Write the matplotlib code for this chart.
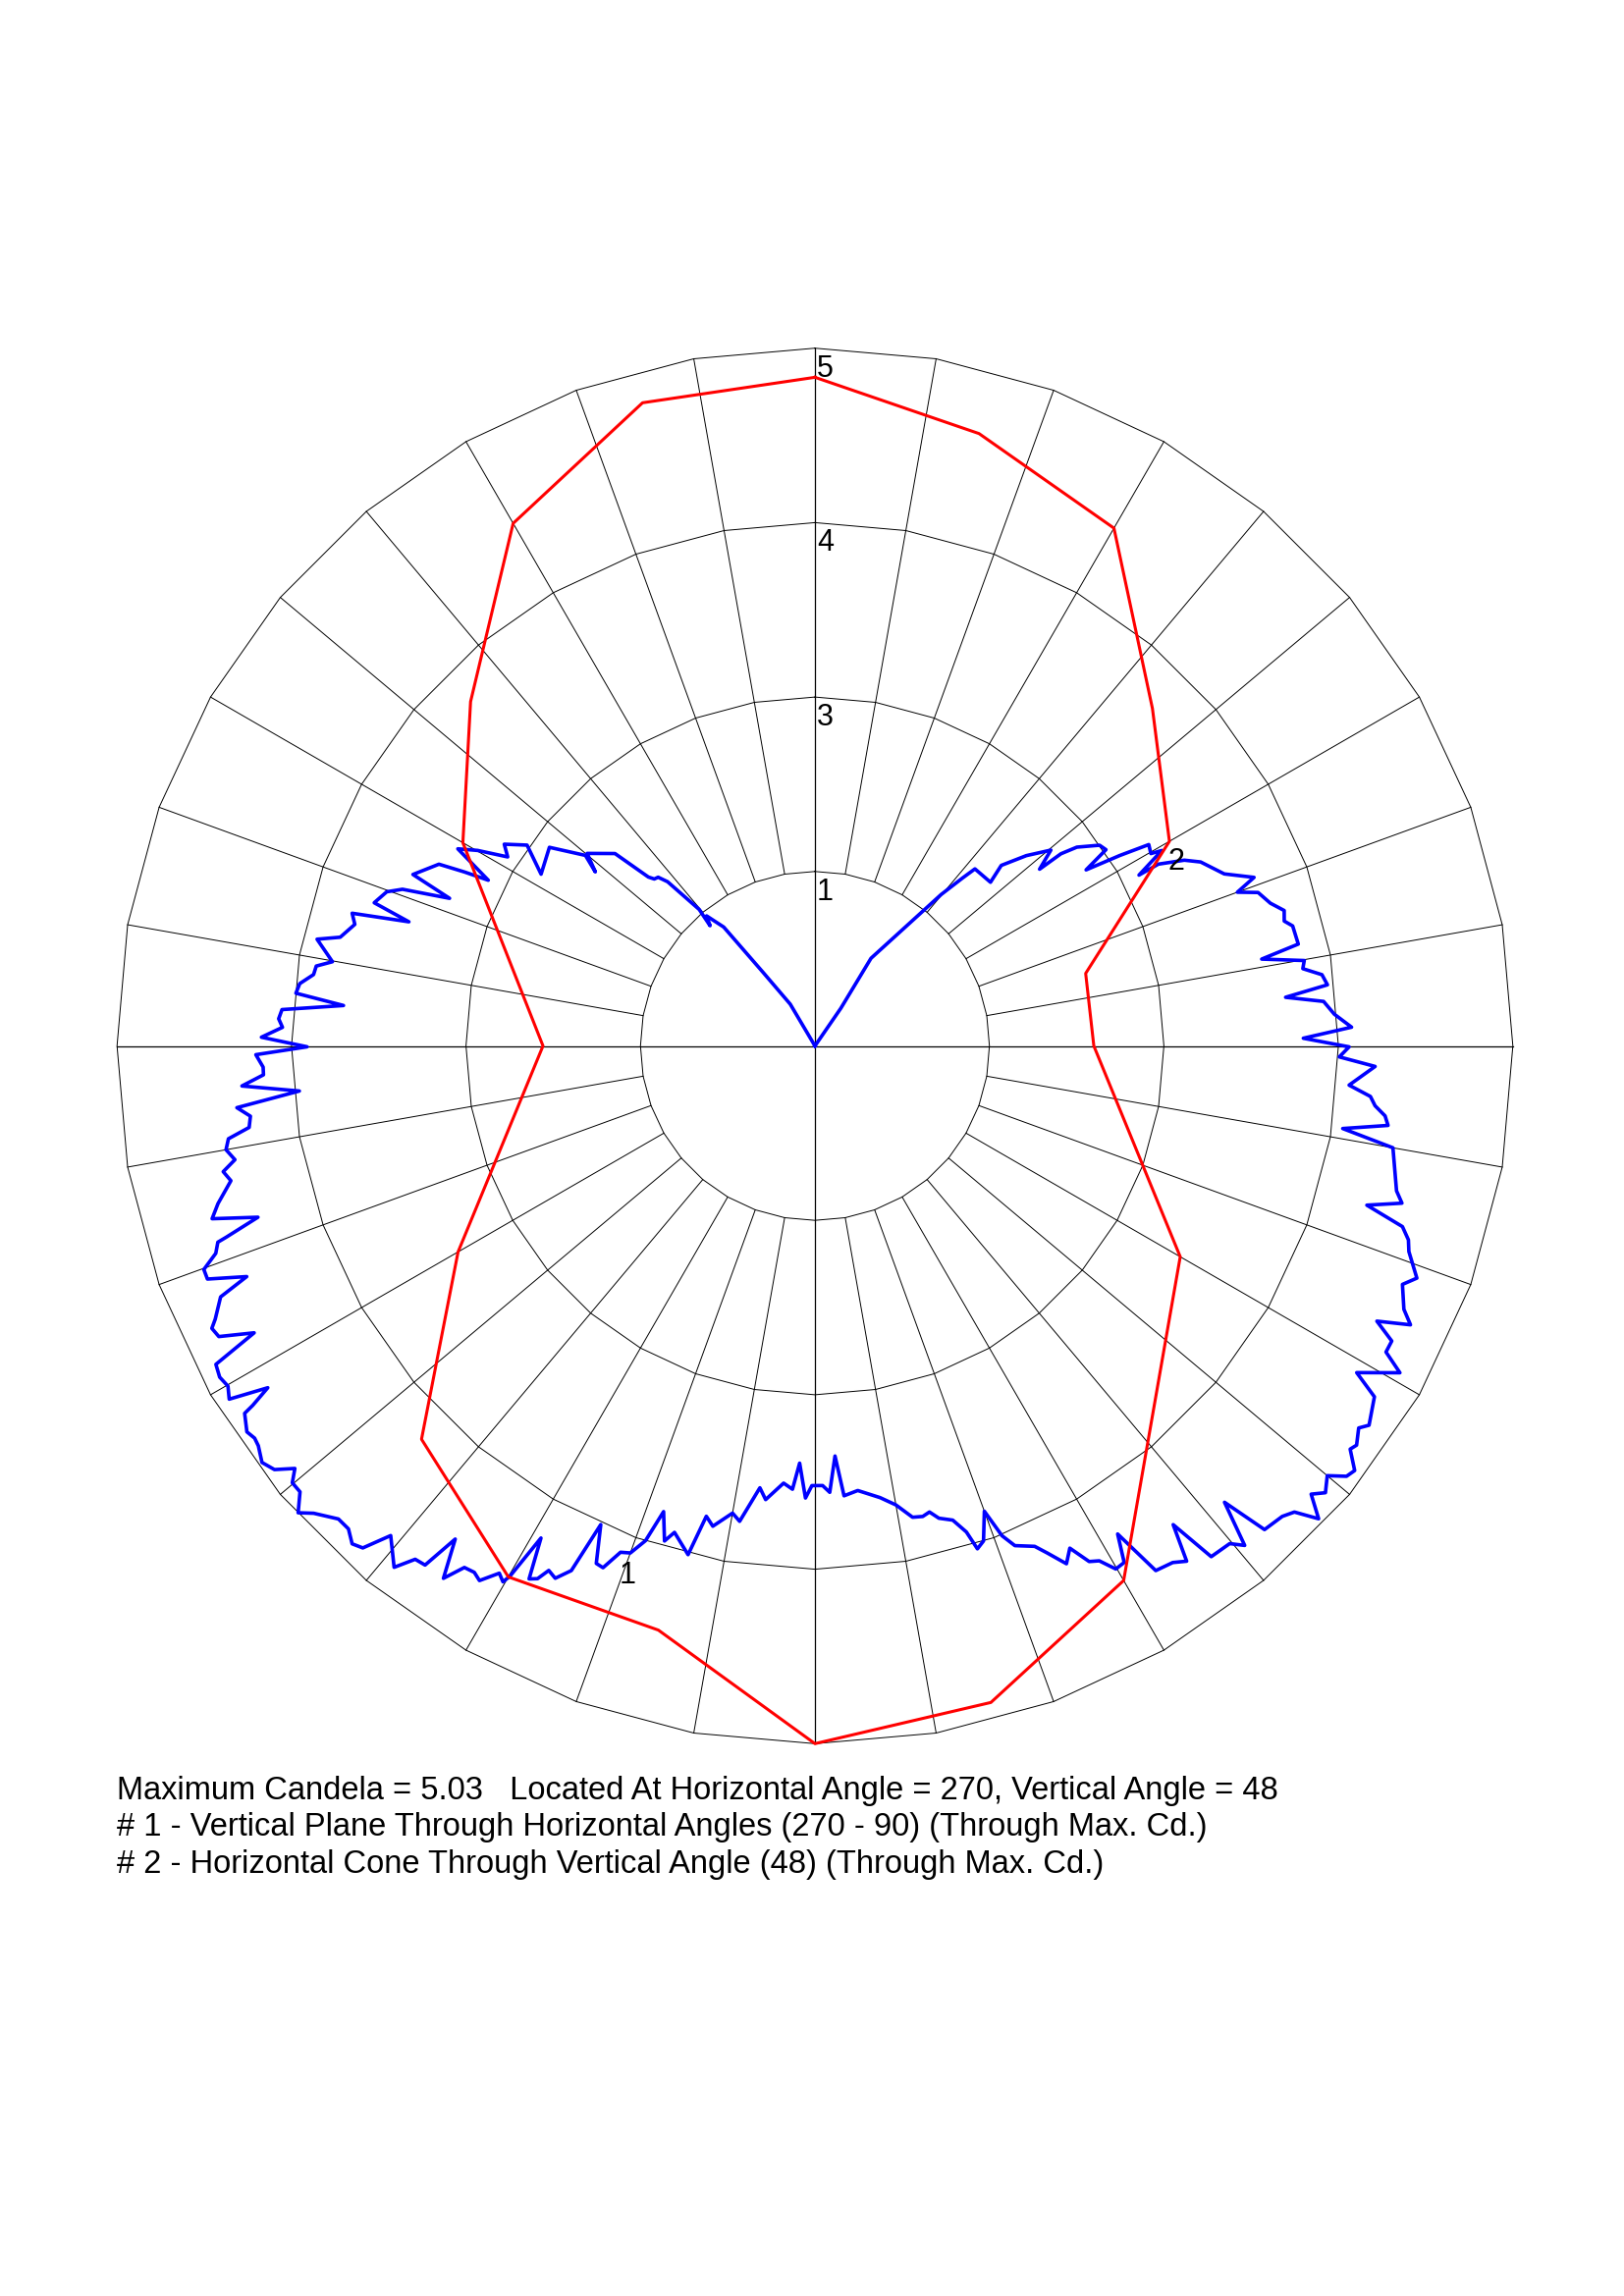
import numpy as np
import matplotlib
matplotlib.use("Agg")
import matplotlib.pyplot as plt

plt.rcParams['font.family'] = ['Liberation Sans', 'DejaVu Sans']

# candela scale
max_cd = 5.03
ring_labels = ['1', '3', '4', '5']

# curve 1 - vertical plane (red), angle from top, clockwise
red_theta = [0, 15, 30, 45, 60, 75, 90, 120, 150, 165, 180,
             195, 210, 225, 240, 270, 300, 315, 330, 345, 360]
red_cd = [4.82, 4.57, 4.31, 3.44, 2.95, 2.02, 2.01, 3.04, 4.45, 4.90, 5.03,
          4.36, 4.42, 4.01, 2.97, 1.96, 2.93, 3.51, 4.35, 4.80, 4.82]

# curve 2 - horizontal cone (blue)
blue_theta = [
    0, 34.5, 32.6, 37.4, 39.8,
    41.3, 42.1, 47.0, 45.9, 48.0, 50.3, 51.8, 52.0, 52.8, 54.8, 56.0, 57.0, 58.0, 58.9,
    60.2, 60.6, 62.2, 62.1, 63.3, 64.5, 67.2, 69.0, 70.0, 70.9, 72.6, 73.9, 75.1, 75.9,
    78.1, 79.0, 80.1, 81.0, 82.0, 83.2, 84.1, 85.0, 86.5, 88.0, 89.1, 90.1, 91.2, 92.1,
    94.2, 95.2,
    96.1, 97.0, 97.9, 98.9, 100.0, 104.0, 105.0, 106.1, 107.1, 108.1, 109.1, 111.1,
    112.1, 114.1, 115.1, 116.1, 117.1, 118.2, 119.2, 121.1, 122.1, 124.4, 125.1, 126.4,
    127.0, 128.2, 129.0, 130.0, 131.2, 132.1, 133.2, 134.2,
    135.2, 137.1, 138.1, 139.3, 140.2, 142.2, 143.2, 144.2, 145.3, 147.0, 148.2, 149.1,
    150.1, 151.1, 152.0, 153.1, 154.1, 155.4, 156.3, 158.2, 159.1, 160.0, 161.2, 162.1,
    162.7, 163.8, 165.3, 166.2, 167.1, 168.3, 170.0, 171.8, 174.5, 176.3, 177.2, 178.1,
    179.0, 180.4, 181.2,
    182.1, 182.9, 184.1, 186.2, 187.1, 189.0, 190.0, 192.0, 193.0, 194.0, 196.1, 196.9,
    198.0, 198.9, 200.0, 201.0, 202.1, 202.9, 204.1, 204.9, 206.0, 206.9, 207.5, 208.2,
    209.1, 209.9, 210.2, 210.9, 212.1, 212.9, 213.9, 214.9, 216.1, 216.9, 217.9, 218.9,
    220.9, 222.0, 222.9, 224.0, 225.2, 227.0, 227.9, 229.1, 230.1, 230.9, 231.9,
    233.0, 234.3, 235.0, 235.8, 237.2, 237.4, 238.0, 238.9, 239.9, 240.9, 242.0, 242.9,
    244.0, 244.9, 245.5, 247.1, 247.9, 249.0, 249.9, 250.9, 251.8, 252.0, 252.9, 254.0,
    255.2, 257.0, 258.0, 258.9, 260.0, 261.0, 261.8, 262.9, 263.9, 265.0, 266.0, 267.0,
    267.8, 269.1,
    269.9, 270.9, 272.0, 272.9, 273.9, 274.9, 275.8, 276.9, 278.1, 279.1, 279.9, 282.1,
    282.9, 284.8, 286.0, 287.0, 288.0, 289.8, 290.8, 292.0, 293.1, 295.8, 296.4, 296.9,
    298.9, 300.1, 301.6, 303.0, 304.9, 302.1, 306.8, 309.7, 308.4, 310.2, 313.9, 315.4,
    316.1, 317.1, 318.1, 319.7, 318.9, 320.2, 322.5, 324.8, 329.4, 360,
]
blue_cd = [
    0.00, 0.33, 0.75, 1.09, 1.42,
    1.61, 1.72, 1.73, 1.87, 2.05, 2.21, 2.06, 2.25, 2.37, 2.51, 2.53, 2.33, 2.59, 2.81,
    2.79, 2.87, 2.64, 2.80, 2.98, 3.08, 3.20, 3.39, 3.24, 3.38, 3.44, 3.52, 3.50, 3.55,
    3.56, 3.28, 3.58, 3.56, 3.69, 3.72, 3.41, 3.68, 3.75, 3.87, 3.52, 3.85, 3.78, 4.04,
    3.86, 4.02,
    4.06, 4.14, 4.17, 3.85, 4.23, 4.32, 4.38, 4.14, 4.43, 4.50, 4.53, 4.65,
    4.57, 4.65, 4.74, 4.51, 4.67, 4.67, 4.83, 4.56, 4.76, 4.84, 4.79, 4.85,
    4.83, 4.95, 4.93, 4.82, 4.89, 4.82, 4.98, 4.82,
    4.78, 4.76, 4.42, 4.75, 4.67, 4.66, 4.31, 4.58, 4.53, 4.51, 4.14, 4.34,
    4.35, 4.24, 4.21, 4.06, 4.15, 4.02, 3.94, 3.88, 3.78, 3.57, 3.77, 3.81,
    3.67, 3.56, 3.52, 3.46, 3.48, 3.47, 3.36, 3.29, 3.22, 3.25, 2.96, 3.22,
    3.17, 3.17, 3.26,
    3.01, 3.20, 3.16, 3.29, 3.21, 3.47, 3.42, 3.54, 3.48, 3.78, 3.65, 3.73,
    3.53, 3.77, 3.89, 3.91, 4.06, 4.05, 3.78, 4.17, 4.27, 4.24, 4.33, 4.36,
    4.06, 4.41, 4.47, 4.43, 4.55, 4.52, 4.53, 4.68, 4.40, 4.68, 4.69, 4.83,
    4.67, 4.87, 4.90, 4.84, 4.84, 4.94, 5.02, 4.91, 4.91, 4.83, 4.95,
    4.99, 4.94, 4.93, 4.95, 4.89, 4.81, 4.65, 4.93, 4.89, 4.91, 4.89, 4.54,
    4.78, 4.80, 4.75, 4.65, 4.42, 4.69, 4.69, 4.57, 4.53, 4.46, 4.20, 4.52,
    4.45, 4.32, 4.36, 4.26, 4.31, 4.28, 4.12, 4.10, 4.19, 3.73, 4.14, 3.98,
    3.98, 4.03,
    3.66, 3.99, 3.84, 3.87, 3.85, 3.41, 3.76, 3.74, 3.65, 3.64, 3.53, 3.67,
    3.51, 3.43, 3.47, 3.06, 3.34, 3.28, 3.18, 2.84, 3.15, 3.01, 2.82, 2.64,
    2.94, 2.81, 2.60, 2.67, 2.53, 2.33, 2.39, 2.15, 2.02, 2.15, 2.00, 1.71,
    1.67, 1.66, 1.59, 1.29, 1.15, 1.22, 1.08, 0.65, 0.35, 0.00,
]

info_lines = [
    "Maximum Candela = 5.03   Located At Horizontal Angle = 270, Vertical Angle = 48",
    "# 1 - Vertical Plane Through Horizontal Angles (270 - 90) (Through Max. Cd.)",
    "# 2 - Horizontal Cone Through Vertical Angle (48) (Through Max. Cd.)",
]

W, H = 1654, 2339
fig = plt.figure(figsize=(W / 100, H / 100), dpi=100)
fig.patch.set_facecolor('white')

cx, cy, R = 830, 1065.5, 710.8
ax = fig.add_axes([(cx - R) / W, (H - cy - R) / H, 2 * R / W, 2 * R / H], projection='polar')
ax.set_theta_zero_location('N')
ax.set_theta_direction(-1)
ax.set_ylim(0, max_cd)
ax.set_axis_off()

# grid: polygon rings with a vertex every 10 degrees, spokes every 10 degrees
rings = [max_cd * (k + 1) / len(ring_labels) for k in range(len(ring_labels))]
poly_t = np.deg2rad(np.arange(0, 361, 10))
for rr in rings:
    ax.plot(poly_t, np.full(poly_t.shape, rr), color='black', lw=0.7, clip_on=False, zorder=1)
for a in range(0, 360, 10):
    r0 = 0 if a % 90 == 0 else rings[0]
    lw = 0.9 if a % 90 == 0 else 0.7
    ax.plot([np.deg2rad(a)] * 2, [r0, max_cd], color='black', lw=lw, clip_on=False, zorder=1)

for rr, lab in zip(rings, ring_labels):
    ax.annotate(lab, xy=(0, rr), xytext=(2, -6), textcoords='offset pixels',
                ha='left', va='top', fontsize=22, color='black', zorder=5)

ax.plot(np.deg2rad(blue_theta), blue_cd, color='#0000ff', lw=2.6, clip_on=False, zorder=3)
ax.plot(np.deg2rad(red_theta), red_cd, color='#ff0000', lw=2.2, clip_on=False, zorder=4)

# curve numbers
ax.text(np.deg2rad(199.6), 4.03, '1', ha='center', va='center_baseline', fontsize=22, zorder=5)
ax.text(np.deg2rad(62.6), 2.93, '2', ha='center', va='center_baseline', fontsize=22, zorder=5)

for i, line in enumerate(info_lines):
    fig.text(119 / W, 1 - (1833 + 37.3 * i) / H, line, ha='left', va='baseline',
             fontsize=23.5, color='black')

fig.savefig('out.png', dpi=100, facecolor='white')
